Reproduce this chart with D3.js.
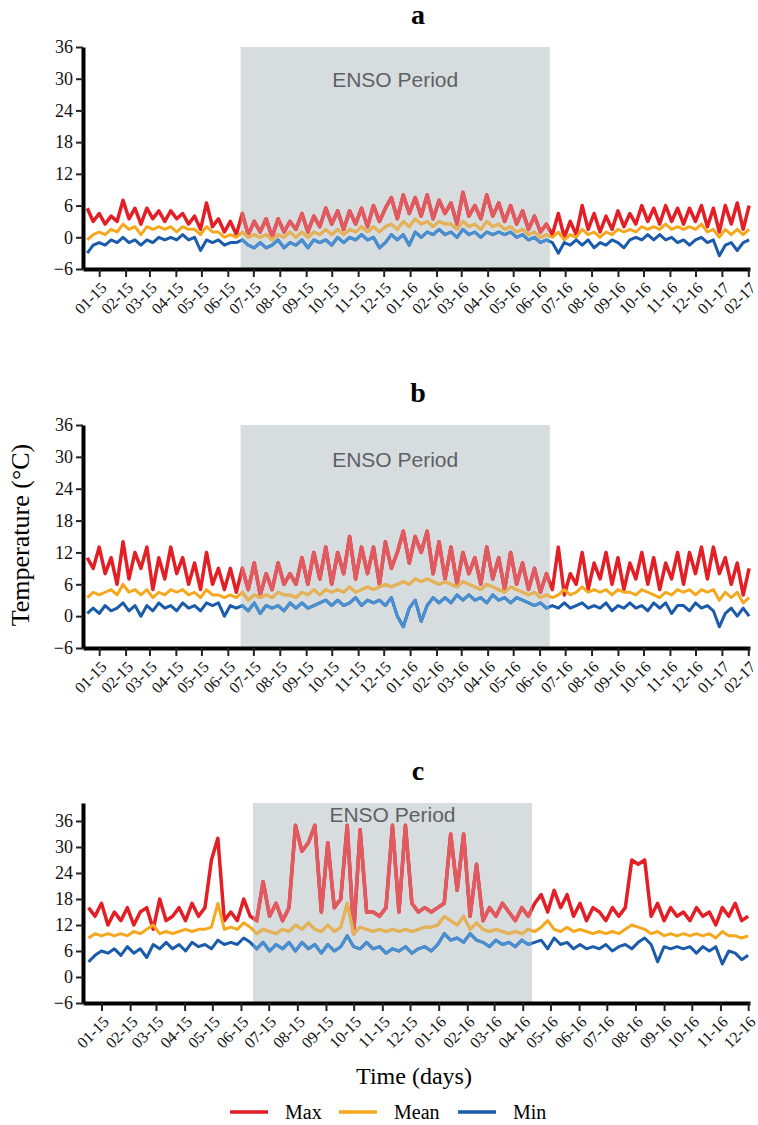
<!DOCTYPE html>
<meta charset="utf-8">
<style>
body { margin: 0; background: #fff; }
svg { display: block; background: #fff; }
.tick text { font-family: "Liberation Serif", "Times New Roman", serif; fill: #111; }
</style>
<body>
<div id="chart"></div>
<script src="https://cdn.jsdelivr.net/npm/d3@7"></script>
<script>
// weekly readings, first point 2015-01-01, one point every 7 days
var aMax = [5.5,3,4.5,2.5,4, 3,7,3.5,5.5, 2.5,5.5,3.5,5, 3,5,3.5,4.5,2.5, 4,1.5,6.5,2, 3.5,1,3,0.5,
  4.5,0.5,3,1,3.5, 0,3.5,1,3, 1.5,4.5,1,4, 2,5.5,2.5,5,1.5, 5,2.5,5.5,2, 6,3,5.5,7.5,3.5,
  8,4.5,7.5,4, 8,3.5,7,4.5, 6.5,2.5,8.5,4,6, 3.5,8,4,6.5, 3,6,2.5,5, 1.5,4,1,2.5,0.5,
  4.5,0,3,0.5, 6,1.5,4.5,1, 4,1.5,5,2,4.5, 2.5,6,3,5.5, 2.5,6,3,5.5, 2.5,5.5,3,6,2,
  5.5,1,6,2.5, 6.5,1.5,6];
var aMean = [-0.5,0.5,1,0.5,1.5, 1,2.5,1.5,2, 0.5,2,1.5,2, 1.5,2,1,2,1.5, 1.5,0.5,2,1, 1,0,0.5,0,
  1,0,0.5,0,0.5, -0.5,0.5,0,1, 0,1,0,1, 0.5,1.5,0.5,1.5,0.5, 1.5,1,2,1, 2,1,2,2.5,1.5,
  3,2,3.5,2.5, 3,2,3,2.5, 2.5,1.5,3,2,2.5, 1.5,3,2,2.5, 1.5,2,1,1.5, 0.5,1,0,0.5,0,
  1,-0.5,0.5,0, 1.5,0.5,1,0, 1,0.5,1.5,1,1.5, 1,2,1.5,2, 1.5,2.5,1.5,2, 1.5,2,1.5,2.5,1,
  1.5,0,1.5,0.5, 1.5,0.5,1.5];
var aMin = [-3,-1.5,-1,-1.5,-0.5, -1,0,-1,-0.5, -1.5,-0.5,-1,0, -0.5,0,-0.5,0.5,-0.5, 0,-2.5,-0.5,-1, -0.5,-1.5,-1,-1,
  -0.5,-1.5,-2,-1,-2, -1.5,-0.5,-2,-1, -1.5,-0.5,-2,-0.5, -1,-0.5,-1.5,0,-1, 0,-0.5,0.5,-0.5, 0,-2,-1,0.5,-0.5,
  0.5,-1.5,1,0, 1,0.5,1.5,0.5, 1,0,1.5,0.5,1, 0,1,0.5,1, 0.5,1,0,0.5, -0.5,0,-1,-0.5,-1,
  -3,-1,-1.5,-0.5, -1.5,-0.5,-2,-1, -1.5,-0.5,-1,-2,-0.5, 0,-0.5,0.5,-0.5, 0.5,-0.5,0,-1, -0.5,-1.5,-0.5,0,-1,
  -0.5,-3.5,-1.5,-1, -2.5,-1,-0.5];

var bMax = [11,9,13,8,11, 6,14,7,12, 9,13,5,11, 7,13,8,11,6, 10,5,12,6, 9,5,9,4.5,
  9,5,10,4,8, 5,10,6,8, 6,11,6,12, 7,13,6,12,8, 15,7,13,8, 13,6,14,9,12,
  16,10,15,12, 16,8,14,7, 13,6,12,8,11, 6,13,7,11, 5,12,6,10, 5,9,4.5,8,5,
  13,4,8,6, 12,5,10,7, 12,6,11,5,10, 7,12,6,11, 5,10,7,12, 6,12,8,13,7,
  13,8,11,6, 10,4,9];
var bMean = [3.5,4.5,4,4.5,5, 4,6,4.5,5, 4,5,3.5,4.5, 4,5,4.5,5,4, 4.5,3.5,5,4, 4,3.5,4,3.5,
  4.5,3,4,3.5,4, 3.5,4.5,4,4, 3.5,4.5,4,5, 4,5,4.5,5,4.5, 5.5,4.5,5,5.5, 5,5.5,6,5.5,6,
  6.5,6,7,6.5, 7,6.5,6,6.5, 6,5.5,6.5,6,5.5, 5,6,5.5,5, 4.5,5.5,5,4.5, 4,4.5,3.5,4,3.5,
  4,5,4,4.5, 5.5,4.5,5,4.5, 5,4,5,4.5,4.5, 4,5,4.5,4, 3.5,4.5,4,5, 4.5,5,4,5,4.5,
  5,3,4.5,3.5, 4.5,2.5,3.5];
var bMin = [0.5,1.5,0.5,2,1, 1.5,2.5,1,2, 0,2,1,2.5, 1.5,2,1,2.5,1.5, 2,1,2.5,2, 2.5,0,2,1.5,
  2,1,2.5,0.5,2, 1.5,2,1,2.5, 1.5,2.5,1.5,2, 2.5,3,2,3,2, 2.5,3.5,2,3, 2.5,3,2,3.5,0,
  -2,1.5,3,-1, 2,3.5,2.5,3.5, 2.5,4,3,4,3, 3.5,2.5,4,3, 3.5,2.5,3.5,3, 2.5,2,2.5,1.5,2,
  1.5,2.5,1.5,2, 2.5,1.5,2,1.5, 2.5,1,2,1.5,2.5, 1.5,2,1,2.5, 1.5,2.5,0.5,2, 2,1,2.5,1.5,2,
  1,-2,0.5,1.5, 0,1.5,0];

var cMax = [16,14,17,12,15, 13,16,12,15, 16,11,18,13, 14,16,13,17,14, 16,27,32,13, 15,13,18,14,
  13,22,14,17,13, 16,35,29,31, 35,15,31,16, 18,35,10,34,15, 15,14,16,35, 15,35,17,15,16,
  15,16,17,33, 20,33,14,26, 13,16,14,17,15, 13,16,14,17, 19,15,20,16, 19,14,17,13,16,
  15,13,16,14, 16,27,26,27, 14,17,13,16,14, 15,13,16,14, 15,12,16,14, 17,13,14];
var cMean = [9,10,9.5,10,9.5, 10,9.5,10.5,10, 11,12,10,10.5, 10,10.5,11,10.5,11, 11,11.5,17,11, 11.5,11,12.5,11.5,
  10,11,10.5,10,11, 10.5,12,11,12.5, 11,10.5,12,10.5, 11.5,17,10,11.5,11, 10.5,11,10.5,11, 10.5,11,10.5,11,11.5,
  11.5,12,14,13, 12,14,11,12.5, 11,10.5,11,10.5,10, 10.5,10,11,10.5, 11.5,13,11,10.5, 11.5,10.5,11,10.5,10,
  10.5,10,10.5,10, 11,12,11.5,11, 10,10.5,9.5,10,9.5, 10,9.5,10,9.5, 10,9,10.5,9.5, 9.5,9,9.5];
var cMin = [3.5,5,6,5.5,6.5, 5,7,5.5,6.5, 4.5,7.5,6.5,8, 6.5,7.5,6,8,7, 7.5,6.5,8.5,7.5, 8,7.5,9,8,
  6.5,8,6,7.5,6.5, 8,6,8,6.5, 7.5,5.5,7.5,6, 7,9.5,7,6.5,8, 6.5,7,5.5,6.5, 6,7,5.5,6.5,7,
  6,7.5,10,8.5, 9,8,10,8.5, 8,7,8.5,7.5,8, 7,8.5,7.5,8, 8.5,6.5,9,7.5, 8,6.5,7.5,6.5,7,
  6.5,7.5,6,7, 7.5,6.5,8,9, 7.5,3.5,7,6.5,7, 6.5,7,5.5,7, 6,7,3,6, 5.5,4,5];

var seriesNames = ["Max", "Mean", "Min"];
var yTicks = [-6, 0, 6, 12, 18, 24, 30, 36];
var ensoLabel = "ENSO Period";

var colors = { Max: "#e31e24", Mean: "#f5a81e", Min: "#1a5bab" };
var ensoColors = { Max: "#e05a5f", Mean: "#e2b25c", Min: "#4a8fd0" };

var parse = d3.timeParse("%Y-%m-%d");
var start = parse("2015-01-01");

var panels = [
  { id: "a", title: "a", titleY: 24, data: [aMax, aMean, aMin],
    xDom: ["2014-12-27", "2017-02-17"], ticks: ["2015-01-15", "2017-02-16"],
    yDom: [-6, 36], yRange: [269, 47], enso: ["2015-06-30", "2016-06-27"], ensoY: 87 },
  { id: "b", title: "b", titleY: 402, data: [bMax, bMean, bMin],
    xDom: ["2014-12-27", "2017-02-17"], ticks: ["2015-01-15", "2017-02-16"],
    yDom: [-6, 36], yRange: [648, 425], enso: ["2015-06-30", "2016-06-27"], ensoY: 467 },
  { id: "c", title: "c", titleY: 780, data: [cMax, cMean, cMin],
    xDom: ["2014-12-26", "2016-12-17"], ticks: ["2015-01-15", "2016-12-16"],
    yDom: [-6, 40.15], yRange: [1003, 803], enso: ["2015-06-28", "2016-04-25"], ensoY: 822 }
];

var svg = d3.select("#chart").append("svg")
  .attr("width", 758)
  .attr("height", 1125);

panels.forEach(function(p) {
  var x = d3.scaleTime().domain(p.xDom.map(parse)).range([83, 750]);
  var y = d3.scaleLinear().domain(p.yDom).range(p.yRange);
  var g = svg.append("g").attr("class", "panel-" + p.id);

  // ENSO shading
  var e0 = x(parse(p.enso[0])), e1 = x(parse(p.enso[1]));
  g.append("rect")
    .attr("x", e0).attr("y", p.yRange[1])
    .attr("width", e1 - e0).attr("height", p.yRange[0] - p.yRange[1])
    .attr("fill", "#d7dcdf");

  g.append("clipPath").attr("id", "enso-" + p.id)
    .append("rect")
    .attr("x", e0).attr("y", p.yRange[1] - 10)
    .attr("width", e1 - e0).attr("height", p.yRange[0] - p.yRange[1] + 20);

  var line = d3.line()
    .x(function(d, i) { return x(d3.timeDay.offset(start, i * 7)); })
    .y(function(d) { return y(d); });

  p.data.forEach(function(vals, k) {
    var name = seriesNames[k];
    var w = k == 0 ? 3.5 : 3;
    g.append("path").datum(vals)
      .attr("d", line)
      .attr("fill", "none")
      .attr("stroke", colors[name])
      .attr("stroke-width", w)
      .attr("stroke-linejoin", "round");
    g.append("path").datum(vals)
      .attr("d", line)
      .attr("fill", "none")
      .attr("clip-path", "url(#enso-" + p.id + ")")
      .attr("stroke", ensoColors[name])
      .attr("stroke-width", w)
      .attr("stroke-linejoin", "round");
  });

  g.append("text")
    .attr("x", (e0 + e1) / 2).attr("y", p.ensoY)
    .attr("text-anchor", "middle")
    .style("font-family", "'Liberation Sans', Arial, sans-serif")
    .style("font-size", "21px")
    .attr("fill", "#5d6164")
    .text(ensoLabel);

  // axes, one tick on the 15th of each month
  var tickDates = d3.timeMonth.range(d3.timeMonth.floor(parse(p.ticks[0])), parse(p.ticks[1]))
    .map(function(d) { return d3.timeDay.offset(d, 14); });

  var xAxis = g.append("g")
    .attr("transform", "translate(0," + p.yRange[0] + ")")
    .call(d3.axisBottom(x).tickValues(tickDates).tickFormat(d3.timeFormat("%m-%y")).tickSize(8).tickSizeOuter(0));
  xAxis.select(".domain").attr("stroke", "#000").attr("stroke-width", 4);
  xAxis.selectAll(".tick line").attr("stroke", "#222").attr("stroke-width", 2);
  xAxis.selectAll(".tick text")
    .style("font-size", "16px")
    .attr("text-anchor", "end")
    .attr("x", 0)
    .attr("y", 0)
    .attr("dy", "0.35em")
    .attr("transform", "translate(4,16) rotate(-45)");

  var yAxis = g.append("g")
    .attr("transform", "translate(83,0)")
    .call(d3.axisLeft(y).tickValues(yTicks).tickSize(7).tickSizeOuter(0));
  yAxis.select(".domain").attr("stroke", "#000").attr("stroke-width", 4);
  yAxis.selectAll(".tick line").attr("stroke", "#222").attr("stroke-width", 2);
  yAxis.selectAll(".tick text").style("font-size", "18px").attr("x", -10);

  svg.append("text")
    .attr("x", 418).attr("y", p.titleY)
    .attr("text-anchor", "middle")
    .style("font-family", "'Liberation Serif', 'Times New Roman', serif")
    .style("font-weight", "bold")
    .style("font-size", "28px")
    .text(p.title);
});

svg.append("text")
  .attr("transform", "translate(29,535) rotate(-90)")
  .attr("text-anchor", "middle")
  .style("font-family", "'Liberation Serif', 'Times New Roman', serif")
  .style("font-size", "26px")
  .text("Temperature (°C)");

svg.append("text")
  .attr("x", 414).attr("y", 1084)
  .attr("text-anchor", "middle")
  .style("font-family", "'Liberation Serif', 'Times New Roman', serif")
  .style("font-size", "24px")
  .text("Time (days)");

// legend
var legendX = [230, 339, 458];
var legend = svg.append("g");
seriesNames.forEach(function(name, i) {
  legend.append("line")
    .attr("x1", legendX[i]).attr("x2", legendX[i] + 38)
    .attr("y1", 1112).attr("y2", 1112)
    .attr("stroke", colors[name]).attr("stroke-width", 3.5);
  legend.append("text")
    .attr("x", legendX[i] + 55).attr("y", 1119)
    .style("font-family", "'Liberation Serif', 'Times New Roman', serif")
    .style("font-size", "20px")
    .text(name);
});
</script>
</body>
